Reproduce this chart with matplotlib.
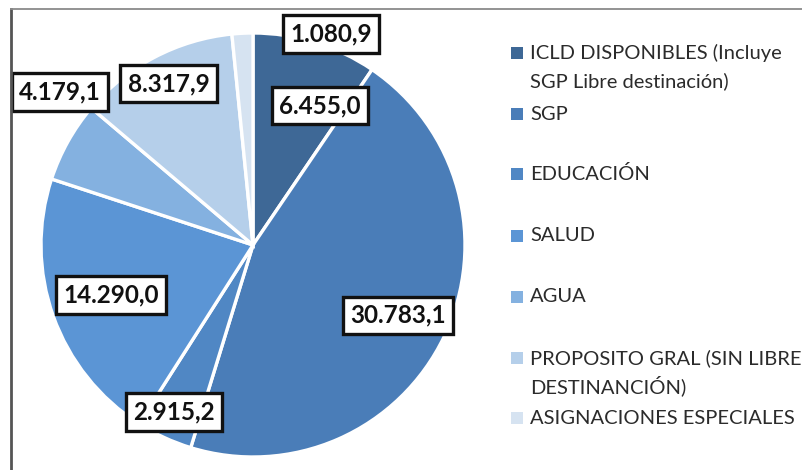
import numpy as np
import matplotlib
matplotlib.use("Agg")
import matplotlib.pyplot as plt
from matplotlib.lines import Line2D
from matplotlib.patches import Rectangle

# data
categories = [
    "ICLD DISPONIBLES (Incluye\nSGP Libre destinación)",
    "SGP",
    "EDUCACIÓN",
    "SALUD",
    "AGUA",
    "PROPOSITO GRAL (SIN LIBRE\nDESTINANCIÓN)",
    "ASIGNACIONES ESPECIALES",
]
values = [6455.0, 30783.1, 2915.2, 14290.0, 4179.1, 8317.9, 1080.9]
value_labels = ["6.455,0", "30.783,1", "2.915,2", "14.290,0", "4.179,1", "8.317,9", "1.080,9"]

colors = ["#3e6896", "#4a7db8", "#5087c4", "#5b95d5", "#84b1e0", "#b5cfea", "#d6e3f1"]

# label placement (radius fraction, angle clockwise from 12 o'clock) - layout only
label_place = [(0.73, 25.7), (0.76, 115.9), (0.87, 205.3), (0.71, 250.5),
               (1.16, 308.4), (0.86, 332.4), (1.06, 20.3)]
# legend rows, pixel y of first line
legend_rows = [53, 114, 174, 236, 297, 358, 418]

W, H = 803, 470
fig = plt.figure(figsize=(W / 100, H / 100), dpi=100)

cx, cy, R = 253, 245, 212
ax = fig.add_axes([(cx - R) / W, (H - cy - R) / H, 2 * R / W, 2 * R / H])

wedges, _ = ax.pie(values, colors=colors, startangle=90, counterclock=False,
                   radius=1.0, wedgeprops=dict(edgecolor="white", linewidth=2.4))
ax.set_xlim(-1, 1)
ax.set_ylim(-1, 1)
ax.set_aspect("equal")
ax.axis("off")
for w in wedges:
    w.set_clip_on(False)

for lab, (rf, ang) in zip(value_labels, label_place):
    t = np.deg2rad(ang)
    ax.text(rf * np.sin(t), rf * np.cos(t), lab, ha="center", va="center",
            fontsize=17.5, fontweight="bold", family="Lato", color="#111111",
            bbox=dict(boxstyle="square,pad=0.3", fc="white", ec="#111111", lw=2.4),
            clip_on=False, zorder=5)

# legend drawn by hand to follow the reference spacing
for name, col, y in zip(categories, colors, legend_rows):
    fig.patches.append(Rectangle((511 / W, 1 - (y + 6) / H), 12 / W, 12 / H,
                                 transform=fig.transFigure, fc=col, ec="none"))
    for i, line in enumerate(name.split("\n")):
        fig.text(530 / W, 1 - (y + 28 * i) / H, line, ha="left", va="center",
                 fontsize=14.5, family="Lato", color="#2b2b2b")

# chart frame (only left and top edges visible)
fig.lines.append(Line2D([11 / W, 11 / W], [0, 1 - 9 / H], transform=fig.transFigure,
                        color="#555555", lw=2))
fig.lines.append(Line2D([11 / W, 1], [1 - 9 / H, 1 - 9 / H], transform=fig.transFigure,
                        color="#8a8a8a", lw=1.3))

fig.savefig("out.png", dpi=100)
